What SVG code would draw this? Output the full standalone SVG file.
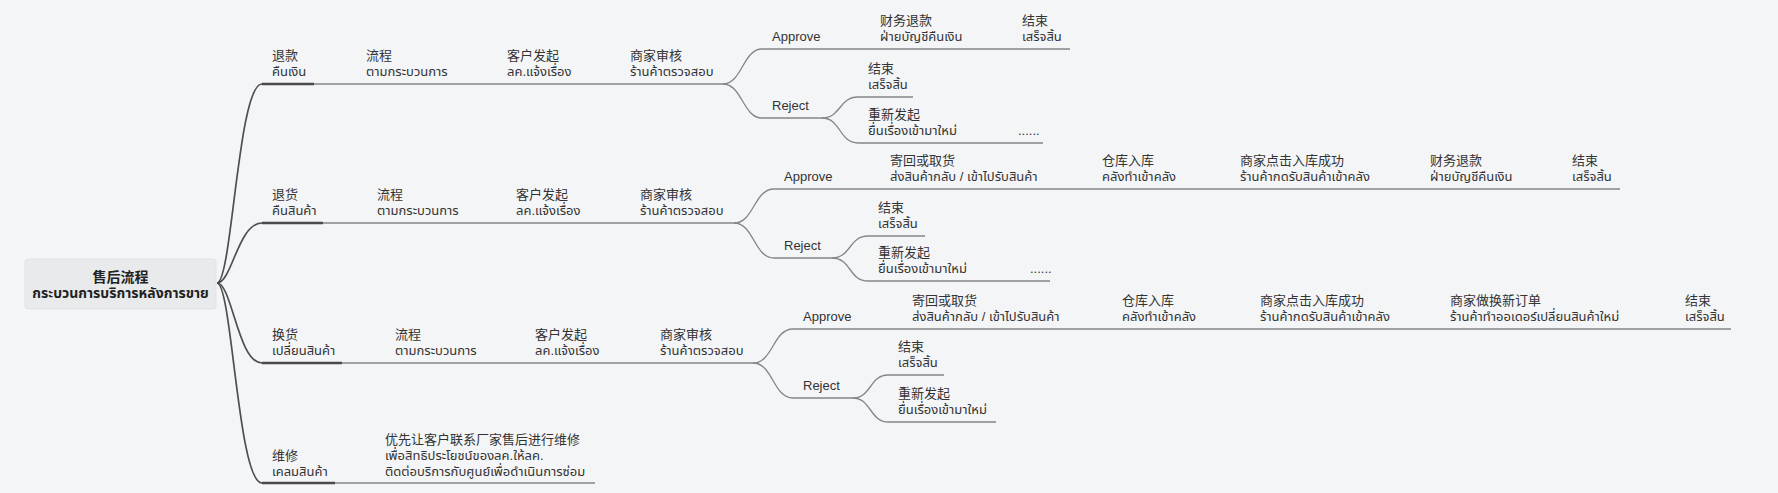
<svg xmlns="http://www.w3.org/2000/svg" width="1778" height="493" viewBox="0 0 1778 493">
<style>
.bg{fill:#f4f5f7}
.root{fill:#e9eaec;stroke:#e2e3e5;stroke-width:1}
.c1{fill:none;stroke:#4f4f4f;stroke-width:1.7}
.c2{fill:none;stroke:#858585;stroke-width:1.3}
.ul{stroke:#4a4a4a;stroke-width:2.6}
text{font-family:"Liberation Sans","Noto Sans CJK SC","Noto Sans Thai",sans-serif;font-size:13px;fill:#333}
.rt{font-size:14px;font-weight:bold;fill:#222;text-anchor:middle}
</style>
<rect class="bg" x="0" y="0" width="1778" height="493"/>

<g id="connectors">
  <path class="c1" d="M217,283 C232,283 238,84 262,84"/>
  <path class="c1" d="M217,283 C232,283 238,223 262,223"/>
  <path class="c1" d="M217,283 C232,283 238,363 262,363"/>
  <path class="c1" d="M217,283 C232,283 238,483 262,483"/>
  <path class="c2" d="M262,84 H723"/>
  <path class="c2" d="M723,84 C742,84 743,49 762,49 H1070"/>
  <path class="c2" d="M723,84 C742,84 743,118 762,118 H822"/>
  <path class="c2" d="M822,118 C841,118 839,97 858,97 H913"/>
  <path class="c2" d="M822,118 C841,118 839,143 858,143 H1043"/>
  <path class="c2" d="M262,223 H734"/>
  <path class="c2" d="M734,223 C754,223 754,189 774,189 H1620"/>
  <path class="c2" d="M734,223 C754,223 754,258 774,258 H832"/>
  <path class="c2" d="M832,258 C851,258 849,236 868,236 H925"/>
  <path class="c2" d="M832,258 C851,258 849,281 868,281 H1050"/>
  <path class="c2" d="M262,363 H753"/>
  <path class="c2" d="M753,363 C773,363 773,329 793,329 H1731"/>
  <path class="c2" d="M753,363 C773,363 773,398 793,398 H853"/>
  <path class="c2" d="M853,398 C871,398 870,375 888,375 H944"/>
  <path class="c2" d="M853,398 C871,398 870,422 888,422 H996"/>
  <path class="c2" d="M262,483 H595"/>
</g>

<g id="root">
  <rect class="root" x="25" y="259" width="191" height="50" rx="3"/>
  <text class="rt" x="120.5" y="282">售后流程</text>
  <text class="rt" x="120.5" y="298">กระบวนการบริการหลังการขาย</text>
</g>

<g id="refund"><line class="ul" x1="262" y1="84" x2="314" y2="84"/><text x="272" y="60">退款</text><text x="272" y="76">คืนเงิน</text></g>
<g id="refund-flow"><text x="366" y="60">流程</text><text x="366" y="76">ตามกระบวนการ</text></g>
<g id="refund-customer"><text x="507" y="60">客户发起</text><text x="507" y="76">ลค.แจ้งเรื่อง</text></g>
<g id="refund-merchant"><text x="630" y="60">商家审核</text><text x="630" y="76">ร้านค้าตรวจสอบ</text></g>
<g id="refund-approve"><text x="772" y="41">Approve</text></g>
<g id="refund-finance"><text x="880" y="25">财务退款</text><text x="880" y="41">ฝ่ายบัญชีคืนเงิน</text></g>
<g id="refund-end-a"><text x="1022" y="25">结束</text><text x="1022" y="41">เสร็จสิ้น</text></g>
<g id="refund-reject"><text x="772" y="110">Reject</text></g>
<g id="refund-end-r"><text x="868" y="73">结束</text><text x="868" y="89">เสร็จสิ้น</text></g>
<g id="refund-resubmit"><text x="868" y="119">重新发起</text><text x="868" y="135">ยื่นเรื่องเข้ามาใหม่</text></g>
<g id="refund-dots"><text x="1018" y="135">......</text></g>

<g id="return"><line class="ul" x1="262" y1="223" x2="323" y2="223"/><text x="272" y="199">退货</text><text x="272" y="215">คืนสินค้า</text></g>
<g id="return-flow"><text x="377" y="199">流程</text><text x="377" y="215">ตามกระบวนการ</text></g>
<g id="return-customer"><text x="516" y="199">客户发起</text><text x="516" y="215">ลค.แจ้งเรื่อง</text></g>
<g id="return-merchant"><text x="640" y="199">商家审核</text><text x="640" y="215">ร้านค้าตรวจสอบ</text></g>
<g id="return-approve"><text x="784" y="181">Approve</text></g>
<g id="return-ship"><text x="890" y="165">寄回或取货</text><text x="890" y="181">ส่งสินค้ากลับ / เข้าไปรับสินค้า</text></g>
<g id="return-warehouse"><text x="1102" y="165">仓库入库</text><text x="1102" y="181">คลังทำเข้าคลัง</text></g>
<g id="return-confirm"><text x="1240" y="165">商家点击入库成功</text><text x="1240" y="181">ร้านค้ากดรับสินค้าเข้าคลัง</text></g>
<g id="return-finance"><text x="1430" y="165">财务退款</text><text x="1430" y="181">ฝ่ายบัญชีคืนเงิน</text></g>
<g id="return-end-a"><text x="1572" y="165">结束</text><text x="1572" y="181">เสร็จสิ้น</text></g>
<g id="return-reject"><text x="784" y="250">Reject</text></g>
<g id="return-end-r"><text x="878" y="212">结束</text><text x="878" y="228">เสร็จสิ้น</text></g>
<g id="return-resubmit"><text x="878" y="257">重新发起</text><text x="878" y="273">ยื่นเรื่องเข้ามาใหม่</text></g>
<g id="return-dots"><text x="1030" y="273">......</text></g>

<g id="exchange"><line class="ul" x1="262" y1="363" x2="342" y2="363"/><text x="272" y="339">换货</text><text x="272" y="355">เปลี่ยนสินค้า</text></g>
<g id="exchange-flow"><text x="395" y="339">流程</text><text x="395" y="355">ตามกระบวนการ</text></g>
<g id="exchange-customer"><text x="535" y="339">客户发起</text><text x="535" y="355">ลค.แจ้งเรื่อง</text></g>
<g id="exchange-merchant"><text x="660" y="339">商家审核</text><text x="660" y="355">ร้านค้าตรวจสอบ</text></g>
<g id="exchange-approve"><text x="803" y="321">Approve</text></g>
<g id="exchange-ship"><text x="912" y="305">寄回或取货</text><text x="912" y="321">ส่งสินค้ากลับ / เข้าไปรับสินค้า</text></g>
<g id="exchange-warehouse"><text x="1122" y="305">仓库入库</text><text x="1122" y="321">คลังทำเข้าคลัง</text></g>
<g id="exchange-confirm"><text x="1260" y="305">商家点击入库成功</text><text x="1260" y="321">ร้านค้ากดรับสินค้าเข้าคลัง</text></g>
<g id="exchange-neworder"><text x="1450" y="305">商家做换新订单</text><text x="1450" y="321">ร้านค้าทำออเดอร์เปลี่ยนสินค้าใหม่</text></g>
<g id="exchange-end-a"><text x="1685" y="305">结束</text><text x="1685" y="321">เสร็จสิ้น</text></g>
<g id="exchange-reject"><text x="803" y="390">Reject</text></g>
<g id="exchange-end-r"><text x="898" y="351">结束</text><text x="898" y="367">เสร็จสิ้น</text></g>
<g id="exchange-resubmit"><text x="898" y="398">重新发起</text><text x="898" y="414">ยื่นเรื่องเข้ามาใหม่</text></g>

<g id="repair"><line class="ul" x1="262" y1="483" x2="335" y2="483"/><text x="272" y="460">维修</text><text x="272" y="476">เคลมสินค้า</text></g>
<g id="repair-note"><text x="385" y="444">优先让客户联系厂家售后进行维修</text><text x="385" y="460">เพื่อสิทธิประโยชน์ของลค.ให้ลค.</text><text x="385" y="476">ติดต่อบริการกับศูนย์เพื่อดำเนินการซ่อม</text></g>
</svg>
